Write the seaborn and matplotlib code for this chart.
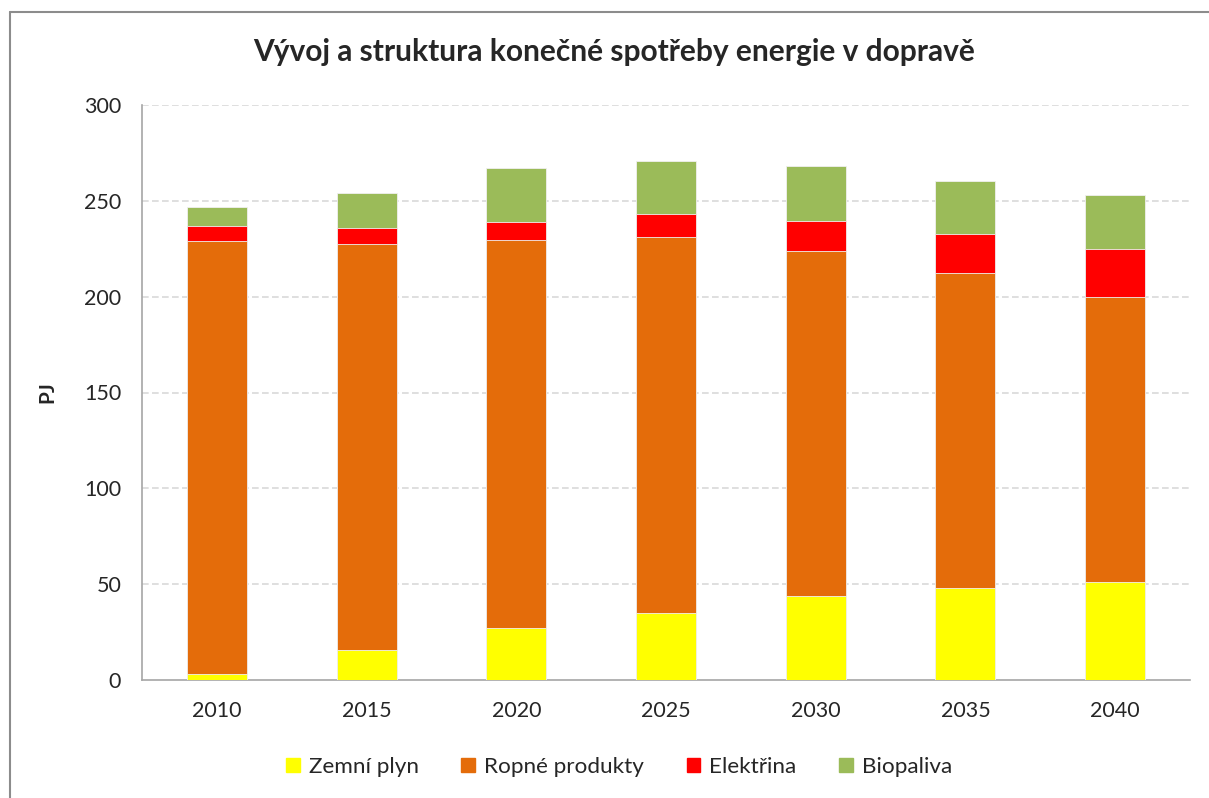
import matplotlib
matplotlib.use("Agg")
import matplotlib.pyplot as plt
import matplotlib.patches as mpatches
from matplotlib.lines import Line2D
import numpy as np
import pandas as pd
import seaborn as sns

years = ["2010", "2015", "2020", "2025", "2030", "2035", "2040"]
zemni_plyn = [3, 15.5, 27, 35, 44, 48, 51]
ropne_produkty = [226, 212, 202.5, 196, 180, 164.5, 149]
elektrina = [8, 8.5, 9.5, 12, 15.5, 20, 25]
biopaliva = [10, 18, 28, 28, 28.5, 28, 28]

names = ["Zemní plyn", "Ropné produkty", "Elektřina", "Biopaliva"]
colors = ["#FFFF00", "#E46C0A", "#FF0000", "#9BBB59"]

df = pd.DataFrame({"rok": years, names[0]: zemni_plyn, names[1]: ropne_produkty,
                   names[2]: elektrina, names[3]: biopaliva})

sns.set_style("white")
plt.rcParams['font.family'] = ['Lato', 'DejaVu Sans']

fig = plt.figure(figsize=(12.09, 7.98), dpi=100)
ax = fig.add_axes([142/1209, 1-680/798, 1048/1209, 575/798])

# stacked bars: draw cumulative sums from the top layer down
cum = df[names].cumsum(axis=1)
for name, col in reversed(list(zip(names, colors))):
    sns.barplot(x=df["rok"], y=cum[name], color=col, width=0.4, ax=ax,
                saturation=1, edgecolor="#F0F0F0", linewidth=0.6, zorder=3)

ax.set_ylim(0, 300)
ax.set_xlim(-0.5, 6.5)
ax.set_yticks(np.arange(0, 301, 50))
ax.set_xticks(range(len(years)))
ax.set_xticklabels(years)
ax.set_xticks(np.arange(-0.5, 7, 1), minor=True)
ax.tick_params(axis="x", which="major", length=0, pad=15, labelsize=15.5)
ax.tick_params(axis="x", which="minor", length=5, width=1.2, color="#A6A6A6", direction="out")
ax.tick_params(axis="y", length=5, width=1.2, color="#A6A6A6", direction="out", pad=10, labelsize=15.5)
ax.set_xlabel("")
ax.set_ylabel("PJ", fontsize=15, fontweight="bold")
ax.yaxis.set_label_coords(-0.081, 0.5)

for v in range(50, 301, 50):
    ax.axhline(v, color="#D9D9D9", linestyle=(0, (4, 2)), linewidth=1.2, zorder=1)

for s in ["top", "right"]:
    ax.spines[s].set_visible(False)
for s in ["left", "bottom"]:
    ax.spines[s].set_color("#A6A6A6")
    ax.spines[s].set_linewidth(1.2)

fig.text(0.508, 1-52/798, "Vývoj a struktura konečné spotřeby energie v dopravě",
         ha="center", va="center", fontsize=21.5, fontweight="bold")

handles = [mpatches.Patch(color=c, label=n) for n, c in zip(names, colors)]
fig.legend(handles=handles, loc="center", bbox_to_anchor=(0.512, 1-767/798), ncol=4,
           frameon=False, fontsize=16.2, handlelength=0.6, handleheight=0.6,
           handletextpad=0.4, columnspacing=1.9)

# outer chart border (only top and left edges are visible in the crop)
bx, by = 10/1209, 1-12/798
fig.lines.append(Line2D([bx, 1.05], [by, by], color="#8C8C8C", linewidth=1.5,
                        transform=fig.transFigure, figure=fig))
fig.lines.append(Line2D([bx, bx], [-0.05, by], color="#8C8C8C", linewidth=1.5,
                        transform=fig.transFigure, figure=fig))

fig.savefig("out.png", dpi=100)
